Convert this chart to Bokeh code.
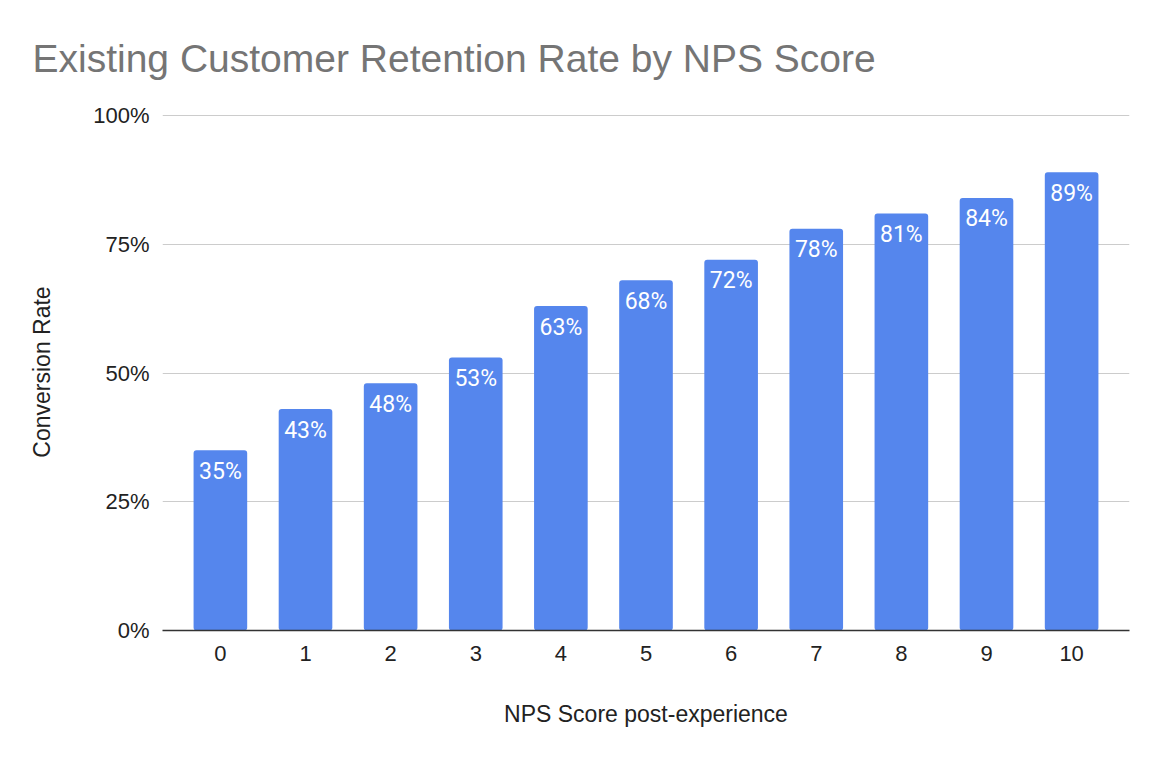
from bokeh.plotting import figure
from bokeh.models import ColumnDataSource, Range1d, NumeralTickFormatter, FixedTicker
from bokeh.core.properties import value
from bokeh.embed import file_html
from bokeh.resources import INLINE

scores = [0, 1, 2, 3, 4, 5, 6, 7, 8, 9, 10]
rates = [35, 43, 48, 53, 63, 68, 72, 78, 81, 84, 89]
y_ticks = [0, 0.25, 0.5, 0.75, 1.0]

source = ColumnDataSource(dict(
    score=scores,
    rate=[r / 100 for r in rates],
    label=[f"{r}%" for r in rates],
))

FONT = "Liberation Sans"

p = figure(
    width=1148, height=752,
    x_range=Range1d(-0.68, 10.68), y_range=Range1d(0, 1.004),
    output_backend="svg", toolbar_location=None,
    min_border_left=162, min_border_right=19,
    min_border_top=113, min_border_bottom=122,
    title="Existing Customer Retention Rate by NPS Score",
)
p.outline_line_color = None

p.title.align = "left"
p.title.vertical_align = "top"
p.title.offset = -130
p.title.standoff = 64
p.title.text_font = FONT
p.title.text_font_size = "39px"
p.title.text_line_height = 0.8
p.title.text_font_style = "normal"
p.title.text_color = "#757575"

p.vbar(x="score", top="rate", width=0.63, source=source,
       fill_color="#5586ed", line_color=None, border_radius=3)

p.text(x="score", y="rate", text="label", source=source,
       text_align="center", text_baseline="middle", y_offset=21,
       text_color="white", text_font=value("Roboto"), text_font_size="23px")

# axes
p.xaxis.ticker = FixedTicker(ticks=scores)
p.xaxis.axis_line_color = "#333333"
p.xaxis.axis_line_width = 1.5
p.xaxis.major_tick_line_color = None
p.xaxis.minor_tick_line_color = None
p.xaxis.major_label_standoff = 9
p.xaxis.axis_label = "NPS Score post-experience"
p.xaxis.axis_label_standoff = 37

p.yaxis.ticker = FixedTicker(ticks=y_ticks)
p.yaxis.formatter = NumeralTickFormatter(format="0%")
p.yaxis.axis_line_color = None
p.yaxis.major_tick_line_color = None
p.yaxis.minor_tick_line_color = None
p.yaxis.major_label_standoff = 7
p.yaxis.axis_label = "Conversion Rate"
p.yaxis.axis_label_standoff = 35

for ax in (p.xaxis[0], p.yaxis[0]):
    ax.major_label_text_font = FONT
    ax.major_label_text_font_size = "22px"
    ax.major_label_text_color = "#222222"
    ax.axis_label_text_font = FONT
    ax.axis_label_text_font_size = "23px"
    ax.axis_label_text_font_style = "normal"
    ax.axis_label_text_color = "#222222"

p.xgrid.grid_line_color = None
p.ygrid.ticker = FixedTicker(ticks=y_ticks)
p.ygrid.grid_line_color = "#cccccc"
p.ygrid.grid_line_width = 1

open("out.html", "w").write(file_html(p, INLINE))
